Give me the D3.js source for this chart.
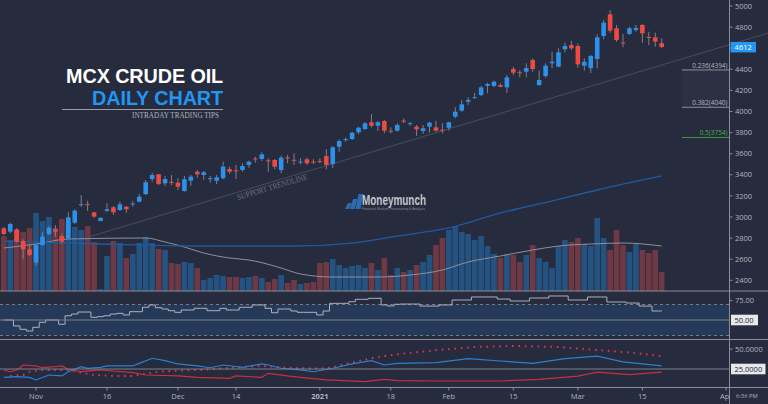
<!DOCTYPE html>
<html><head><meta charset="utf-8">
<script src="https://cdn.jsdelivr.net/npm/d3@7"></script>
<style>
html,body{margin:0;padding:0;background:#262b3d;overflow:hidden}
svg{display:block}
</style></head><body>
<svg id="chart" width="768" height="404"></svg>
<script>
// ---------------- DATA ----------------
const sessionStart = "2020-10-26";
const sessionEnd = "2021-04-20";
const holidays = ["2020-12-25", "2021-01-26"];
const extraSessions = ["2020-11-14"]; // Diwali muhurat session

const opens = [2893,2861,2883,2772,2694,2567,2734,2839,2883,2820,
 2798,2946,3118,3121,3044,2962,3057,3092,3066,3098,
 3125,3145,3218,3360,3405,3319,3332,3325,3246,3344,
 3429,3398,3366,3344,3367,3455,3442,3445,3493,3555,
 3550,3537,3540,3445,3565,3542,3522,3547,3526,3531,
 3578,3502,3666,3735,3739,3803,3834,3898,3865,3910,
 3818,3818,3914,3886,3856,3815,3856,3850,3827,3846,
 3951,4008,4093,4133,4156,4244,4242,4251,4229,4403,
 4372,4377,4488,4251,4336,4457,4425,4590,4630,4621,
 4434,4410,4498,4716,4921,4789,4654,4735,4773,4820,
 4706,4703,4647];
const highs = [2905,2946,2893,2788,2734,2741,2855,2915,2924,2845,
 3045,3073,3208,3154,3050,2995,3130,3104,3145,3104,
 3152,3218,3351,3420,3407,3389,3398,3367,3389,3398,
 3445,3436,3391,3398,3524,3477,3493,3509,3534,3571,
 3613,3556,3550,3581,3588,3604,3556,3562,3547,3556,
 3642,3673,3736,3755,3808,3856,3900,3976,3910,3919,
 3850,3888,3935,3903,3872,3872,3903,3913,3888,3903,
 4040,4109,4135,4178,4242,4273,4292,4267,4346,4425,
 4393,4457,4504,4387,4457,4567,4599,4652,4671,4646,
 4504,4536,4732,4867,4962,4820,4735,4804,4820,4829,
 4756,4747,4694];
const lows = [2829,2845,2756,2599,2630,2536,2728,2829,2813,2744,
 2788,2934,3098,3057,2993,2960,3050,3019,3057,3038,
 3098,3139,3206,3335,3303,3294,3303,3256,3240,3297,
 3373,3351,3325,3313,3357,3408,3360,3429,3467,3515,
 3531,3429,3452,3414,3509,3493,3502,3493,3502,3509,
 3452,3462,3619,3714,3730,3784,3825,3850,3815,3793,
 3793,3809,3888,3865,3768,3787,3799,3809,3793,3818,
 3936,3998,4062,4119,4147,4173,4229,4229,4178,4346,
 4324,4324,4377,4242,4320,4410,4419,4561,4583,4415,
 4387,4362,4410,4684,4747,4662,4609,4725,4756,4652,
 4630,4614,4599];
const closes = [2839,2934,2766,2694,2640,2734,2813,2899,2861,2766,
 2997,3060,3121,3118,3003,2993,3073,3044,3120,3073,
 3128,3192,3329,3398,3313,3360,3327,3287,3357,3382,
 3405,3424,3368,3376,3477,3429,3438,3483,3524,3550,
 3594,3533,3477,3562,3560,3538,3525,3509,3522,3528,
 3493,3661,3720,3738,3799,3846,3888,3865,3898,3818,
 3815,3872,3911,3889,3831,3841,3894,3818,3824,3898,
 3998,4068,4109,4136,4229,4261,4283,4235,4324,4368,
 4367,4412,4403,4299,4434,4472,4561,4621,4599,4447,
 4472,4526,4703,4842,4766,4678,4650,4789,4792,4741,
 4703,4662,4612];
const volumes = [55,51,61,59,63,78,70,74,63,72,
 69,64,61,65,49,2,35,50,48,33,
 37,48,54,48,42,41,28,27,29,28,
 23,11,13,16,15,14,14,13,14,15,
 13,9,12,16,8,11,7,8,9,28,
 29,32,26,23,25,26,23,28,21,33,
 16,23,19,21,26,29,36,46,53,61,
 65,59,57,51,55,45,37,33,37,36,
 29,36,46,33,29,23,45,51,49,53,
 47,45,73,53,41,61,46,39,47,41,
 38,41,19];
const rsiValues = [50,50,42.3,38,35.8,40.6,47,50,50,44.5,
 55.5,57.7,60.3,60.3,53.5,54.3,55.5,57.7,58.6,56.5,
 60.7,60.7,66.4,69.4,65.9,64.2,62,59.9,62.9,62.9,
 65.1,65.1,62,62,65.1,62.9,62.9,66.4,66.4,69.4,
 69.4,65.1,59.4,64.2,64.2,61.6,59.9,59.9,59.9,56.5,
 61.6,71.5,71.5,71.5,73.6,76.7,76.7,78,78,69.4,
 68.1,70.3,70.6,70.6,70.6,68,68,68,69.4,69.4,
 75.8,75.8,75.8,79.7,79.7,79.7,79.7,77,77,74.5,
 74.5,74.5,78.4,78.4,78.4,81,81,81,75.8,75.8,
 75.8,79.7,79.7,79.7,73.2,73.2,73.2,71.9,71.9,68,
 68,61.6,61.6];
// sparse readings: [trading-day number, value]
const ma200 = [[0,2772],[15,2744],[30,2725],[45,2725],[54,2753],[61,2820],[69,2896],[77,3038],[85,3152],[92,3256],[102,3389]];
const volumeMA = [[0,43],[5,47],[10,52],[22,53],[25,49],[28,44],[31,38],[35,33],[38,31],[43,23],[46,17],[51,14],[58,14],[63,16],[68,21],[72,29],[77,35],[82,41],[86,45],[91,47],[96,48],[102,45]];
const diPlus = [[0,14.6],[2,15.4],[4,14.6],[5,11.3],[7,17.5],[9,16.3],[10,21.6],[12,27.9],[13,25.9],[15,27.1],[16,28.8],[20,28.8],[21,32.1],[23,38.4],[25,35.4],[27,31.3],[30,28.8],[32,26.6],[34,30],[37,27.1],[40,31.3],[41,30],[43,25.9],[46,23.8],[48,21.6],[51,25.9],[54,31.3],[57,35.4],[59,30],[61,32.1],[67,33],[72,38],[77,35],[82,32],[87,38],[92,41],[96,34],[102,29]];
const diMinus = [[0,23.8],[1,21.6],[2,23.8],[3,30],[5,28.8],[6,26.6],[8,27.9],[9,28.8],[10,24.6],[12,21.6],[15,23.8],[17,22.5],[20,20.4],[22,17.5],[27,16.3],[30,14.6],[35,13.4],[36,16.3],[40,14.6],[41,19.6],[44,16.3],[46,14.6],[50,11.3],[56,9.1],[59,12.1],[61,10.4],[67,10],[77,10],[83,12],[89,16],[92,21],[97,18],[102,21]];
const adx = [[1,16.3],[3,17.5],[4,21.6],[6,23.8],[10,23.8],[12,20.4],[14,17.5],[17,16.3],[20,16.3],[24,21.6],[27,22.9],[32,24.6],[36,27.1],[40,28.8],[43,27.1],[46,25.9],[49,25.4],[51,27.1],[53,31.3],[55,35],[57,38.4],[59,41.3],[61,43.4],[67,48.5],[73,52.5],[79,53.8],[86,52.5],[92,48.8],[98,45],[102,41]];

const priceTicks = [2400,2600,2800,3000,3200,3400,3600,3800,4000,4200,4400,4600,4800,5000];
const xTickDates = ["2020-11-02","2020-11-16","2020-12-01","2020-12-14","2021-01-01","2021-01-18","2021-02-01","2021-02-15","2021-03-01","2021-03-15","2021-04-01"];
const xTickLabels = ["Nov","16","Dec","14","2021","18","Feb","15","Mar","15","Apr"];
const fibLevels = [{ratio:"0.236", price:4394}, {ratio:"0.382", price:4040}, {ratio:"0.5", price:3754}];
const trendAnchors = [[13,2808],[102,4441]];
const lastPrice = 4612;

// ---------------- BUILD ----------------
const parse = d3.utcParse("%Y-%m-%d"), fmt = d3.utcFormat("%Y-%m-%d");
const days = [];
for (let d = parse(sessionStart); d <= parse(sessionEnd); d = d3.utcDay.offset(d, 1)) {
  const s = fmt(d), wd = d.getUTCDay();
  if ((wd > 0 && wd < 6 && !holidays.includes(s)) || extraSessions.includes(s)) days.push(s);
}
const dayIndex = new Map(days.map((d, i) => [d, i]));
const candles = closes.map((c, i) => ({i, date: days[i], o: opens[i], h: highs[i], l: lows[i], c, v: volumes[i]}));

const W = 768, H = 404, AX = 729.5;
const BG = "#262b3d", UP = "#2a91ec", DOWN = "#ee4a41", WICK = "#7d808a", TXT = "#b2b5be";
const FONT = "'Open Sans', 'Noto Sans', sans-serif";
const TITLE_FONT = "'Liberation Sans', Arial, sans-serif";
const TREND = "#474c5e";

const svg = d3.select("#chart");
svg.append("rect").attr("width", W).attr("height", H).attr("fill", BG);

const x = d3.scaleLinear().domain([0, closes.length - 1]).range([3.8, 661.7]);
const y = d3.scaleLinear().domain([2400, 5000]).range([280.3, 6]);
const yVol = d3.scaleLinear().domain([0, 100]).range([291, 191]);
const yRsi = d3.scaleLinear().domain([30, 70]).range([335.5, 304.5]);
const yDmi = d3.scaleLinear().domain([25, 50]).range([369, 349]);

const defs = svg.append("defs");
const clip = (id, y0, y1) => defs.append("clipPath").attr("id", id).append("rect").attr("x", 0).attr("y", y0).attr("width", AX).attr("height", y1 - y0);
clip("cMain", 0, 291); clip("cRsi", 291, 339); clip("cDmi", 339, 387);

const gMain = svg.append("g").attr("clip-path", "url(#cMain)");
const step = x(1) - x(0);

// volume bars
gMain.selectAll("rect.vol").data(candles).join("rect").attr("class", "vol")
  .attr("x", d => x(d.i) - step / 2 + 0.4).attr("width", step - 0.8)
  .attr("y", d => yVol(d.v)).attr("height", d => yVol(0) - yVol(d.v))
  .attr("fill", d => d.c >= d.o ? "rgba(33,150,243,0.38)" : "rgba(239,83,80,0.36)");

// volume MA
gMain.append("path").datum(volumeMA)
  .attr("d", d3.line().x(d => x(d[0])).y(d => yVol(d[1])).curve(d3.curveMonotoneX))
  .attr("fill", "none").attr("stroke", "#8e919b").attr("stroke-width", 1);

// 200 MA
gMain.append("path").datum(ma200)
  .attr("d", d3.line().x(d => x(d[0])).y(d => y(d[1])).curve(d3.curveMonotoneX))
  .attr("fill", "none").attr("stroke", "#1f5aa0").attr("stroke-width", 1.3);

// support trendline
const slope = (trendAnchors[1][1] - trendAnchors[0][1]) / (trendAnchors[1][0] - trendAnchors[0][0]);
const trendAt = t => trendAnchors[0][1] + slope * (t - trendAnchors[0][0]);
gMain.append("line")
  .attr("x1", x(trendAnchors[0][0])).attr("y1", y(trendAnchors[0][1]))
  .attr("x2", W).attr("y2", y(trendAt(x.invert(W))))
  .attr("stroke", TREND).attr("stroke-width", 1);
{
  const tx = 238, ty = y(trendAt(x.invert(tx))) + 8;
  const ang = Math.atan2(y(trendAnchors[1][1]) - y(trendAnchors[0][1]), x(trendAnchors[1][0]) - x(trendAnchors[0][0])) * 180 / Math.PI;
  svg.append("text").attr("transform", `translate(${tx},${ty}) rotate(${ang})`)
    .attr("font-family", "'Liberation Serif', serif").attr("font-size", 8.5)
    .attr("fill", "#6d717e").attr("textLength", 73).attr("lengthAdjust", "spacingAndGlyphs")
    .text("SUPPORT TRENDLINE");
}

// candles
const cg = gMain.selectAll("g.c").data(candles).join("g").attr("class", "c");
cg.append("line").attr("x1", d => x(d.i)).attr("x2", d => x(d.i))
  .attr("y1", d => y(d.h)).attr("y2", d => y(d.l)).attr("stroke", WICK).attr("stroke-width", 1);
cg.append("rect").attr("x", d => x(d.i) - 2.3).attr("width", 4.6)
  .attr("y", d => y(Math.max(d.o, d.c)))
  .attr("height", d => Math.max(1, Math.abs(y(d.o) - y(d.c))))
  .attr("fill", d => d.c >= d.o ? UP : DOWN);

// fibonacci levels
const fibX0 = 682;
svg.append("rect").attr("x", fibX0).attr("width", AX - fibX0)
  .attr("y", y(fibLevels[0].price)).attr("height", y(fibLevels[1].price) - y(fibLevels[0].price))
  .attr("fill", "rgba(150,155,170,0.05)");
fibLevels.forEach((f, k) => {
  const col = k === 2 ? "#3f9a45" : "#8e919b";
  svg.append("line").attr("x1", fibX0).attr("x2", AX).attr("y1", y(f.price)).attr("y2", y(f.price))
    .attr("stroke", col).attr("stroke-width", 1);
  svg.append("text").attr("x", AX - 2).attr("y", y(f.price) - 2).attr("text-anchor", "end")
    .attr("font-family", FONT).attr("font-size", 6.5).attr("fill", k === 2 ? "#4caf50" : TXT)
    .text(`${f.ratio}(${f.price})`);
});

// title
const fitWidth = (sel, target) => {
  const n = sel.text().length;
  const len = sel.node().getComputedTextLength();
  const ls = (target - len) / n;
  sel.attr("letter-spacing", ls).attr("x", +sel.attr("x") - ls);
};
const t1 = svg.append("text").attr("x", 223).attr("y", 82.6).attr("text-anchor", "end")
  .attr("font-family", TITLE_FONT).attr("font-weight", 700).attr("font-size", 19.8)
  .attr("fill", "#ffffff").text("MCX CRUDE OIL");
const t2 = svg.append("text").attr("x", 223).attr("y", 105.2).attr("text-anchor", "end")
  .attr("font-family", TITLE_FONT).attr("font-weight", 700).attr("font-size", 19.8)
  .attr("fill", "#2196f3").text("DAILY CHART");
fitWidth(t1, 157); fitWidth(t2, 131);
svg.append("line").attr("x1", 62).attr("x2", 223).attr("y1", 109.5).attr("y2", 109.5)
  .attr("stroke", "#9a9da6").attr("stroke-width", 1);
svg.append("text").attr("x", 219).attr("y", 118.3).attr("text-anchor", "end")
  .attr("font-family", "'Liberation Serif', serif").attr("font-size", 7.5).attr("fill", TXT)
  .attr("textLength", 87).attr("lengthAdjust", "spacingAndGlyphs").text("INTRADAY TRADING TIPS");

// logo
const lg = svg.append("g").attr("transform", "translate(345,194)");
[[0, 9, 4], [5, 5, 4.5], [10.5, 0, 5]].forEach(([bx, by, bw]) => {
  lg.append("polygon").attr("points", `${bx + 3},${by} ${bx + 3 + bw},${by} ${bx + bw},15 ${bx},15`).attr("fill", "#2b6cb0");
});
svg.append("text").attr("x", 362).attr("y", 204.5).attr("font-family", "'Liberation Sans Narrow','Liberation Sans',sans-serif")
  .attr("font-weight", 700).attr("font-size", 14).attr("fill", "#c3c6ce")
  .attr("textLength", 64).attr("lengthAdjust", "spacingAndGlyphs").text("Moneymunch");
svg.append("text").attr("x", 362).attr("y", 210).attr("font-family", "'Liberation Sans',sans-serif")
  .attr("font-size", 3.4).attr("fill", "#8a8d98").attr("textLength", 63).attr("lengthAdjust", "spacingAndGlyphs")
  .text("Financial Markets Forecasting & Analysis");

// ---------- RSI panel ----------
const gR = svg.append("g").attr("clip-path", "url(#cRsi)");
gR.append("rect").attr("x", 0).attr("width", AX).attr("y", yRsi(70)).attr("height", yRsi(30) - yRsi(70)).attr("fill", "#243a58");
[70, 30].forEach(v => gR.append("line").attr("x1", 0).attr("x2", AX).attr("y1", yRsi(v)).attr("y2", yRsi(v))
  .attr("stroke", "#787b86").attr("stroke-dasharray", "3,3"));
svg.append("line").attr("x1", 0).attr("x2", 731).attr("y1", yRsi(50)).attr("y2", yRsi(50)).attr("stroke", "#7d808b");
gR.append("path").datum(rsiValues)
  .attr("d", d3.line().x((d, i) => x(i)).y(d => yRsi(d)).curve(d3.curveStep))
  .attr("fill", "none").attr("stroke", "#aeb2bd").attr("stroke-width", 1);

// ---------- DMI panel ----------
const gD = svg.append("g").attr("clip-path", "url(#cDmi)");
svg.append("line").attr("x1", 0).attr("x2", 731).attr("y1", yDmi(25)).attr("y2", yDmi(25)).attr("stroke", "#7d808b");
const dl = d3.line().x(d => x(d[0])).y(d => yDmi(d[1]));
gD.append("path").datum(adx).attr("d", dl).attr("fill", "none").attr("stroke", "#e0344a")
  .attr("stroke-width", 2).attr("stroke-dasharray", "1.6,4.8");
gD.append("path").datum(diMinus).attr("d", dl).attr("fill", "none").attr("stroke", "#c9303f").attr("stroke-width", 1.2);
gD.append("path").datum(diPlus).attr("d", dl).attr("fill", "none").attr("stroke", "#2a80d6").attr("stroke-width", 1.2);

// ---------- separators & x axis ----------
[291, 339.5].forEach(v => svg.append("line").attr("x1", 0).attr("x2", W).attr("y1", v).attr("y2", v).attr("stroke", "#8a8d97").attr("stroke-width", 1));
svg.append("line").attr("x1", 0).attr("x2", W).attr("y1", 387.5).attr("y2", 387.5).attr("stroke", "#8a8d97");
xTickDates.forEach((dt, k) => {
  const px = x(dayIndex.get(dt));
  svg.append("line").attr("x1", px).attr("x2", px).attr("y1", 387.5).attr("y2", 390.5).attr("stroke", "#8a8d97");
  svg.append("text").attr("x", px).attr("y", 398.5).attr("text-anchor", "middle")
    .attr("font-family", FONT).attr("font-size", 7.5).attr("font-weight", xTickLabels[k] === "2021" ? 700 : 400)
    .attr("fill", TXT).text(xTickLabels[k]);
});

// ---------- right price axis ----------
svg.append("rect").attr("x", AX + 0.5).attr("y", 0).attr("width", W - AX).attr("height", H).attr("fill", BG);
svg.append("line")
  .attr("x1", AX).attr("y1", y(trendAt(x.invert(AX))))
  .attr("x2", W).attr("y2", y(trendAt(x.invert(W))))
  .attr("stroke", TREND);
[291, 339.5, 387.5].forEach(v => svg.append("line").attr("x1", AX).attr("x2", W).attr("y1", v).attr("y2", v).attr("stroke", "#8a8d97"));
svg.append("line").attr("x1", AX).attr("x2", AX).attr("y1", 0).attr("y2", H).attr("stroke", "#8a8d97");
priceTicks.forEach(p => {
  svg.append("line").attr("x1", AX).attr("x2", AX + 3).attr("y1", y(p)).attr("y2", y(p)).attr("stroke", "#8a8d97");
  svg.append("text").attr("x", 735).attr("y", y(p)).attr("dy", "0.35em")
    .attr("font-family", FONT).attr("font-size", 7.5).attr("fill", TXT).text(p);
});
svg.append("rect").attr("x", 730.5).attr("y", y(lastPrice) - 5).attr("width", 25.5).attr("height", 10.5).attr("fill", "#2196f3");
svg.append("text").attr("x", 743.2).attr("y", y(lastPrice)).attr("dy", "0.35em").attr("text-anchor", "middle")
  .attr("font-family", FONT).attr("font-size", 7.5).attr("fill", "#ffffff").text(lastPrice);

// RSI axis
svg.append("line").attr("x1", AX).attr("x2", AX + 3).attr("y1", yRsi(75)).attr("y2", yRsi(75)).attr("stroke", "#8a8d97");
svg.append("text").attr("x", 735).attr("y", yRsi(75)).attr("dy", "0.35em").attr("font-family", FONT).attr("font-size", 7.5).attr("fill", TXT).text("75.00");
svg.append("rect").attr("x", 731).attr("y", yRsi(50) - 5.3).attr("width", 27).attr("height", 10.6).attr("fill", "#e6e8ec");
svg.append("text").attr("x", 734.5).attr("y", yRsi(50)).attr("dy", "0.35em").attr("font-family", FONT).attr("font-size", 7.5).attr("fill", "#1a1e2b").text("50.00");

// DMI axis
svg.append("line").attr("x1", AX).attr("x2", AX + 3).attr("y1", yDmi(50)).attr("y2", yDmi(50)).attr("stroke", "#8a8d97");
svg.append("text").attr("x", 735).attr("y", yDmi(50)).attr("dy", "0.35em").attr("font-family", FONT).attr("font-size", 7.5).attr("fill", TXT).text("50.0000");
svg.append("rect").attr("x", 731).attr("y", yDmi(25) - 5.3).attr("width", 34.5).attr("height", 10.6).attr("fill", "#e6e8ec");
svg.append("text").attr("x", 734.5).attr("y", yDmi(25)).attr("dy", "0.35em").attr("font-family", FONT).attr("font-size", 7.5).attr("fill", "#1a1e2b").text("25.0000");

// time label
svg.append("text").attr("x", 736).attr("y", 398).attr("font-family", FONT).attr("font-size", 5.8).attr("fill", TXT).text("6:36 PM");
</script>
</body></html>
